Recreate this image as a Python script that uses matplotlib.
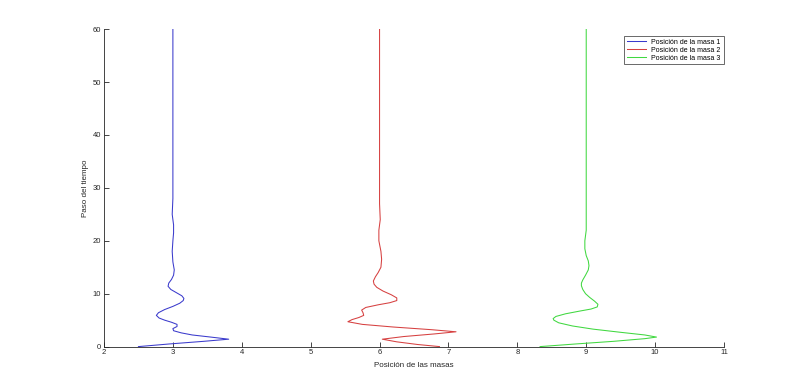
import matplotlib
matplotlib.use("Agg")
import matplotlib.pyplot as plt

plt.rcParams['font.family'] = ['Liberation Sans', 'DejaVu Sans']

# Datos: (posición, paso del tiempo)
pos_masa1 = [2.50, 2.95, 3.45, 3.81, 3.55, 3.28, 3.12, 3.01, 3.00, 3.06, 3.06, 2.98,
             2.88, 2.80, 2.76, 2.79, 2.88, 3.00, 3.10, 3.15, 3.16, 3.13, 3.05, 2.97,
             2.93, 2.94, 2.98, 3.01, 3.02, 3.00, 2.99, 3.00, 3.01, 3.01, 2.99, 3.00,
             3.00]
t_masa1 = [0.0, 0.5, 1.0, 1.4, 1.8, 2.2, 2.6, 3.0, 3.4, 3.8, 4.2, 4.6,
           5.0, 5.4, 5.9, 6.4, 7.0, 7.6, 8.2, 8.7, 9.1, 9.6, 10.2, 10.8,
           11.4, 12.0, 12.7, 13.5, 14.5, 16.0, 18.0, 20.0, 21.5, 23.0, 25.0, 28.0,
           60.0]

pos_masa2 = [6.87, 6.55, 6.25, 6.04, 6.35, 6.80, 7.11, 6.75, 6.20, 5.75, 5.54, 5.60,
             5.70, 5.77, 5.76, 5.74, 5.80, 5.98, 6.15, 6.25, 6.25, 6.17, 6.05, 5.96,
             5.92, 5.91, 5.94, 5.98, 6.02, 6.03, 6.02, 5.99, 5.99, 6.01, 6.00, 6.00]
t_masa2 = [0.0, 0.4, 0.9, 1.4, 1.9, 2.4, 2.8, 3.2, 3.7, 4.2, 4.7, 5.1,
           5.5, 5.9, 6.4, 6.9, 7.4, 7.9, 8.3, 8.7, 9.2, 9.8, 10.5, 11.2,
           11.8, 12.4, 13.2, 14.0, 15.0, 16.5, 18.0, 20.0, 22.0, 24.0, 27.0, 60.0]

pos_masa3 = [8.33, 8.85, 9.40, 9.85, 10.02, 9.85, 9.50, 9.10, 8.80, 8.60, 8.53, 8.52,
             8.56, 8.70, 8.90, 9.07, 9.16, 9.17, 9.12, 9.05, 8.99, 8.95, 8.93, 8.93,
             8.95, 8.99, 9.03, 9.04, 9.03, 9.00, 8.98, 8.98, 9.00, 9.00, 9.00]
t_masa3 = [0.0, 0.5, 1.0, 1.5, 1.8, 2.2, 2.7, 3.3, 3.9, 4.5, 5.0, 5.3,
           5.7, 6.2, 6.7, 7.1, 7.5, 8.0, 8.6, 9.3, 10.0, 10.8, 11.5, 12.0,
           12.6, 13.5, 14.5, 15.3, 16.2, 17.2, 18.5, 20.0, 22.0, 25.0, 60.0]

fig = plt.figure(figsize=(8, 3.89), dpi=100)
ax = fig.add_axes([0.13, 0.109, 0.775, 0.816])

ax.plot(pos_masa1, t_masa1, color='#3a3acc', lw=0.75, label='Posición de la masa 1')
ax.plot(pos_masa2, t_masa2, color='#d64040', lw=0.75, label='Posición de la masa 2')
ax.plot(pos_masa3, t_masa3, color='#40d840', lw=0.75, label='Posición de la masa 3')

ax.set_xlim(2, 11)
ax.set_ylim(0, 60)
ax.set_xticks(range(2, 12))
ax.set_yticks(range(0, 61, 10))

gris = '#262626'
for lado in ['top', 'right']:
    ax.spines[lado].set_visible(False)
for lado in ['left', 'bottom']:
    ax.spines[lado].set_color(gris)
    ax.spines[lado].set_linewidth(0.6)
ax.tick_params(direction='in', length=3.5, width=0.6, colors=gris, labelsize=5.5, pad=2)

ax.set_xlabel('Posición de las masas', fontsize=5.8, color=gris, labelpad=4)
ax.set_ylabel('Paso del tiempo', fontsize=5.8, color=gris, labelpad=3)

ley = ax.legend(loc='upper right', fontsize=5, frameon=True, fancybox=False,
                edgecolor=gris, handlelength=2.7, borderpad=0.4, labelspacing=0.15,
                bbox_to_anchor=(1.005, 0.99))
ley.get_frame().set_linewidth(0.6)

plt.savefig('out.png', dpi=100)
